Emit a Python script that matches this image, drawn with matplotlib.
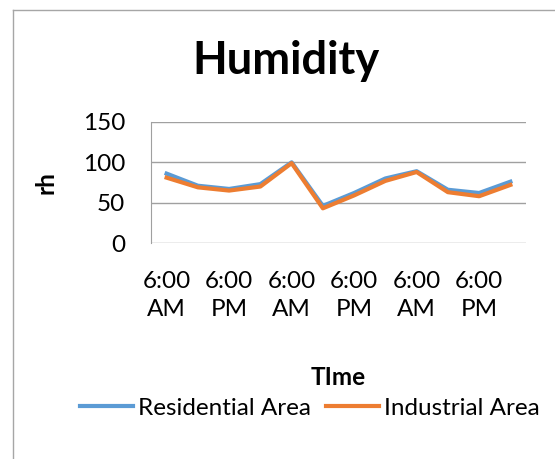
import matplotlib.pyplot as plt
from matplotlib.lines import Line2D

# Дані вологості (rh) кожні 6 годин
times = ['6:00\nAM', '12:00\nPM', '6:00\nPM', '12:00\nAM',
         '6:00\nAM', '12:00\nPM', '6:00\nPM', '12:00\nAM',
         '6:00\nAM', '12:00\nPM', '6:00\nPM', '12:00\nAM']
residential = [86, 71, 67, 73, 100, 46, 62, 80, 89, 66, 62, 76]
industrial = [81, 69, 65, 70, 99, 43, 59, 77, 88, 63, 58, 72]

plt.rcParams['font.family'] = ['Lato', 'DejaVu Sans']
fs = 17.5

fig = plt.figure(figsize=(5.55, 4.59), dpi=100)
ax = fig.add_axes([151 / 555, 1 - 243 / 459, 375 / 555, 121 / 459])

x = list(range(len(times)))
ax.plot(x, residential, color='#5B9BD5', linewidth=3.0, label='Residential Area')
ax.plot(x, industrial, color='#ED7D31', linewidth=3.0, label='Industrial Area')

# Осі та сітка
ax.set_xlim(-0.5, len(times) - 0.5)
ax.set_ylim(0, 150)
ax.set_yticks([0, 50, 100, 150])
ax.set_xticks(x[::2])
ax.set_xticklabels(times[::2], linespacing=1.45)
ax.tick_params(axis='both', length=0, labelsize=fs)
ax.tick_params(axis='x', pad=20)
ax.tick_params(axis='y', pad=18.5)
ax.grid(axis='y', color='#a0a0a0', linewidth=1)
ax.set_axisbelow(True)
for s in ['top', 'right', 'bottom']:
    ax.spines[s].set_visible(False)
ax.spines['left'].set_color('#a0a0a0')

ax.set_ylabel('rh', fontsize=fs, fontweight='bold', labelpad=18)
ax.set_xlabel('TIme', fontsize=fs, fontweight='bold', labelpad=33)

fig.text(286 / 555, 1 - 61 / 459, 'Humidity', fontsize=32.5, fontweight='bold',
         ha='center', va='center')

fig.legend(loc='center', bbox_to_anchor=(310 / 555, 1 - 408 / 459), ncol=2,
           frameon=False, fontsize=fs, handlelength=2.18, handletextpad=0.2,
           columnspacing=0.62, borderpad=0)

# Рамка діаграми
fig.add_artist(Line2D([13 / 555, 13 / 555], [0, 1 - 10 / 459],
                      transform=fig.transFigure, color='#a6a6a6', linewidth=1))
fig.add_artist(Line2D([13 / 555, 1], [1 - 10 / 459, 1 - 10 / 459],
                      transform=fig.transFigure, color='#a6a6a6', linewidth=1))

fig.savefig('out.png', dpi=100)
